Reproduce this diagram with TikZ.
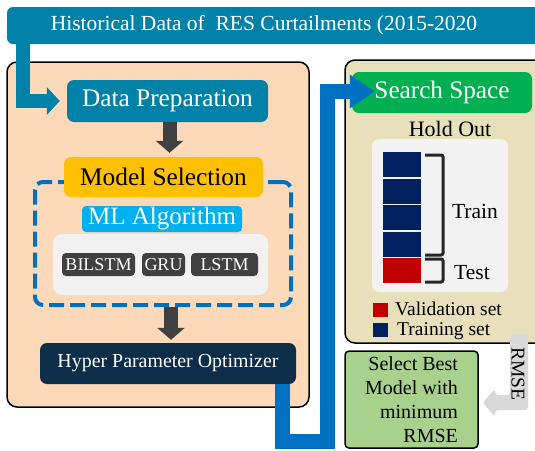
\documentclass[tikz,border=0pt]{standalone}
\usepackage{fontspec}
\setmainfont{Liberation Serif}
\usetikzlibrary{arrows.meta,calc}
\definecolor{tealc}{RGB}{0,129,167}
\definecolor{peach}{RGB}{252,218,185}
\definecolor{beige}{RGB}{231,224,186}
\definecolor{orangec}{RGB}{255,192,0}
\definecolor{cyanc}{RGB}{0,176,240}
\definecolor{dblue}{RGB}{0,112,192}
\definecolor{lgray}{RGB}{242,242,242}
\definecolor{dgray}{RGB}{64,64,64}
\definecolor{hpoc}{RGB}{12,46,72}
\definecolor{greenc}{RGB}{0,176,80}
\definecolor{navy}{RGB}{0,32,96}
\definecolor{redc}{RGB}{192,0,0}
\definecolor{lgreen}{RGB}{169,209,142}
\definecolor{rgray}{RGB}{217,217,217}
\definecolor{brk}{RGB}{38,38,38}
\tikzset{
  fs/.style={font=\fontsize{#1}{#1}\selectfont},
  panel/.style={draw=black, line width=1.5pt, rounded corners=10pt},
  boxc/.style={rounded corners=7pt, inner sep=0pt, text=white},
  algo/.style={rounded corners=4pt, fill=dgray, text=white, inner sep=0pt, minimum height=23pt, fs=18},
  darrow/.style={line width=14pt, draw=dgray, -{Triangle[length=12pt,width=27pt]}},
  blk/.style={fill=navy, minimum width=38pt, minimum height=25pt, inner sep=0pt},
  bracket/.style={line width=3pt, draw=brk, rounded corners=2pt},
  lbl/.style={fs=21.5, inner sep=0pt},
}
\begin{document}
\begin{tikzpicture}[x=1pt,y=-1pt]
\useasboundingbox (0,0) rectangle (535,450);
% panels
\draw[panel, fill=peach] (7,62) rectangle (309,407);
\draw[panel, fill=beige] (345,60) rectangle (570,343);
% banner
\fill[tealc, rounded corners=6pt] (7,7) rectangle (570,44);
\node[fs=21.5, text=white, inner sep=0pt] (title) at (264,25) {Historical Data of~ RES Curtailments (2015-2020};
% left panel content
\node[boxc, fill=tealc, minimum width=201pt, minimum height=42pt, fs=25.3] (DP) at (167.5,101) {Data Preparation};
\draw[line width=14pt, draw=tealc, -{Triangle[length=13pt,width=27pt]}] (23,40) |- ($(DP.west)+(-7,0)$);
\node[draw=dblue, line width=4pt, dash pattern=on 15pt off 6pt, rounded corners=8pt, minimum width=256pt, minimum height=123pt, inner sep=0pt] (frame) at (163,243.5) {};
\node[boxc, fill=orangec, text=black, minimum width=199pt, minimum height=40pt, fs=25.3] (MS) at (163.5,177) {Model Selection};
\draw[darrow] ($(DP.south)+(2,0)$) -- ($(DP.south |- MS.north)+(2,-4)$);
\node[rounded corners=4pt, fill=cyanc, text=white, minimum width=160pt, minimum height=26pt, inner sep=0pt, fs=25] (ML) at (162,219) {ML Algorithm};
\node[rounded corners=9pt, fill=lgray, minimum width=215pt, minimum height=61pt, inner sep=0pt] (algos) at (160.5,264.5) {};
\node[algo, minimum width=73pt] (bilstm) at (98.5,264.5) {BILSTM};
\node[algo, minimum width=43pt] (gru) at (163.5,264.5) {GRU};
\node[algo, minimum width=67pt] (lstm) at (224.5,264.5) {LSTM};
\node[boxc, fill=hpoc, minimum width=256pt, minimum height=41pt, fs=19.9] (HPO) at (168,363.5) {Hyper Parameter Optimizer};
\draw[darrow] ($(frame.south)+(8,0)$) -- ($(frame.south |- HPO.north)+(8,-3)$);
% right panel content
\node[boxc, fill=greenc, minimum width=180pt, minimum height=41pt, fs=25.2] (SS) at (442,92.5) {Search Space};
\coordinate (b1) at (327,441);
\draw[line width=15pt, draw=dblue, -{Triangle[length=25pt,width=32pt]}] ($(HPO.south east)+(-14,0)$) |- (b1) |- ($(SS.west)+(23,-1)$);
\node[lbl, fs=22] (hold) at (450,129) {Hold Out};
\node[rounded corners=7pt, fill=lgray, minimum width=136pt, minimum height=153pt, inner sep=0pt] (inner) at (440,215.5) {};
\node[blk] (k1) at (402,164.5) {};
\node[blk] (k2) at (402,191) {};
\node[blk] (k3) at (402,217.5) {};
\node[blk] (k4) at (402,244) {};
\node[blk, fill=redc] (k5) at (402,270.5) {};
\draw[bracket] (425,155) -- (443,155) -- (443,255) -- (425,255);
\draw[bracket] (425,259) -- (443,259) -- (443,282) -- (425,282);
\node[lbl] (train) at (475,211) {Train};
\node[lbl] (test) at (472,273) {Test};
\node[fill=redc, minimum width=15pt, minimum height=14pt, inner sep=0pt] (lr) at (380.5,309.5) {};
\node[fill=navy, minimum width=15pt, minimum height=14pt, inner sep=0pt] (ln) at (380.5,330) {};
\node[lbl, fs=19.5, anchor=west] (lrt) at (395,309) {Validation set};
\node[lbl, fs=19.5, anchor=west] (lnt) at (397,331.5) {Training set};
% select best
\node[draw=black, line width=1.5pt, fill=lgreen, rounded corners=4pt, minimum width=133pt, minimum height=97pt, inner sep=0pt, align=right, font=\fontsize{20}{24}\selectfont] (SB) at (411.5,399.5) {Select Best\\Model with\\minimum\\RMSE};
% RMSE arrow
\coordinate (tip) at ($(SB.east)+(4,3)$);
\fill[rgray, rounded corners=3pt] (510,334) -- (528,334) -- (528,410) -- (495,410) -- (495,417) -- (tip) -- (495,389) -- (495,395) -- (510,395) -- cycle;
\node[fs=19.5, rotate=-90, inner sep=0pt] (rmse) at (518,374) {RMSE};
\end{tikzpicture}
\end{document}
